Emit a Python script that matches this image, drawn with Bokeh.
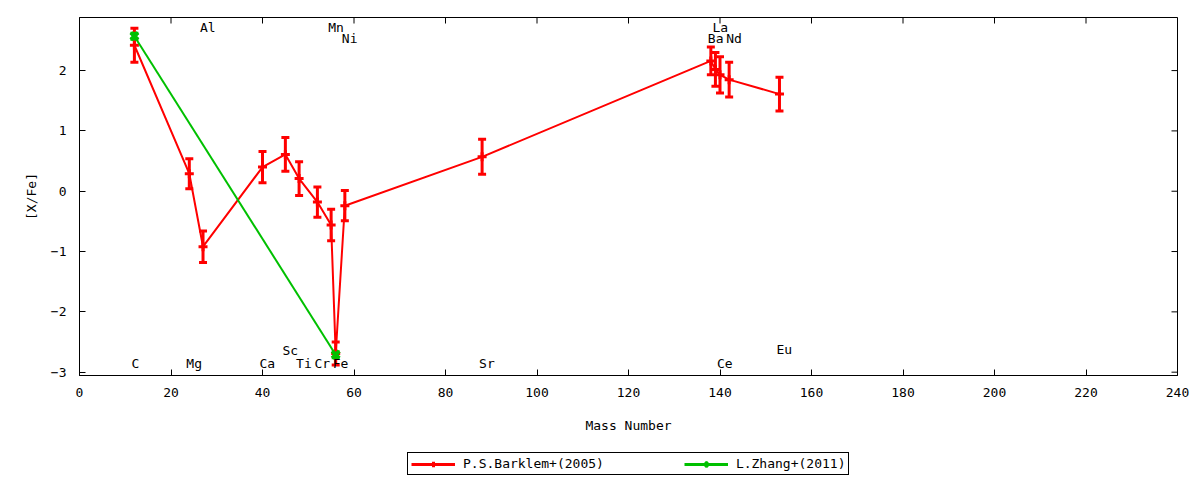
import math
from bokeh.plotting import figure
from bokeh.layouts import column
from bokeh.models import (ColumnDataSource, Whisker, TeeHead, FixedTicker, Range1d,
                          Legend, LegendItem)
from bokeh.core.properties import value
from bokeh.embed import file_html
from bokeh.resources import INLINE

# ---- data ----
elements = ["C", "Mg", "Al", "Ca", "Sc", "Ti", "Cr", "Mn", "Fe", "Ni", "Sr", "Ba", "La", "Ce", "Nd", "Eu"]
mass = [12, 24, 27, 40, 45, 48, 52, 55, 56, 58, 88, 138, 139, 140, 142, 153]
barklem_xfe = [2.42, 0.29, -0.92, 0.40, 0.61, 0.21, -0.18, -0.56, -2.69, -0.24, 0.57, 2.16, 2.02, 1.93, 1.85, 1.61]
barklem_err = [0.28, 0.25, 0.26, 0.26, 0.28, 0.28, 0.25, 0.26, 0.19, 0.25, 0.29, 0.23, 0.28, 0.30, 0.29, 0.28]
label_y = [-2.85, -2.85, 2.71, -2.85, -2.64, -2.85, -2.85, 2.71, -2.85, 2.54, -2.85, 2.54, 2.71, -2.85, 2.54, -2.62]

zhang_mass = [12, 56]
zhang_xfe = [2.57, -2.71]
zhang_err = [0.05, 0.05]

x_ticks = list(range(0, 241, 20))
y_ticks = [-3, -2, -1, 0, 1, 2]
X_MIN, X_MAX = 0, 240
Y_MIN, Y_MAX = -3.055, 2.88

RED = "#ff0000"
GREEN = "#00c000"
FONT = "DejaVu Sans Mono"
FS = "13px"

src_b = ColumnDataSource(dict(
    x=mass, y=barklem_xfe,
    lo=[v - e for v, e in zip(barklem_xfe, barklem_err)],
    hi=[v + e for v, e in zip(barklem_xfe, barklem_err)],
))
src_z = ColumnDataSource(dict(
    x=zhang_mass, y=zhang_xfe,
    lo=[v - e for v, e in zip(zhang_xfe, zhang_err)],
    hi=[v + e for v, e in zip(zhang_xfe, zhang_err)],
))
src_l = ColumnDataSource(dict(x=mass, y=label_y, t=elements))

p = figure(frame_width=1098, frame_height=358, output_backend="svg", toolbar_location=None,
           x_range=Range1d(X_MIN, X_MAX), y_range=Range1d(Y_MIN, Y_MAX),
           min_border_left=79, min_border_right=15, min_border_top=17, min_border_bottom=70)
p.outline_line_color = "black"
p.outline_line_width = 1
p.outline_line_alpha = 1.0
p.xgrid.visible = False
p.ygrid.visible = False

for ax in (p.xaxis[0], p.yaxis[0]):
    ax.major_tick_in = 6
    ax.major_tick_out = 0
    ax.minor_tick_line_color = None
    ax.major_label_text_font = FONT
    ax.major_label_text_font_size = FS
    ax.major_label_text_color = "black"
    ax.axis_label_text_font = FONT
    ax.axis_label_text_font_size = FS
    ax.axis_label_text_font_style = "normal"
    ax.axis_label_text_color = "black"
    ax.axis_line_color = "black"
    ax.major_tick_line_color = "black"

p.xaxis.ticker = FixedTicker(ticks=x_ticks)
p.yaxis.ticker = FixedTicker(ticks=y_ticks)
p.xaxis.axis_label = "Mass Number"
p.yaxis.axis_label = "[X/Fe]"
p.xaxis.major_label_standoff = 12
p.xaxis.axis_label_standoff = 18
p.yaxis.major_label_standoff = 13
p.yaxis.axis_label_standoff = 9

# mirrored tick marks on the top and right edges (half of each dash is clipped by the frame)
p.scatter(x=x_ticks, y=[Y_MAX] * len(x_ticks), marker="dash", angle=math.pi / 2,
          size=12, line_color="black", line_width=1)
p.scatter(x=[X_MAX] * len(y_ticks), y=y_ticks, marker="dash",
          size=12, line_color="black", line_width=1)

def add_series(fig, src, color, marker, msize, mlw):
    ln = fig.line("x", "y", source=src, line_color=color, line_width=2)
    wh = Whisker(base="x", upper="hi", lower="lo", source=src, dimension="height",
                 line_color=color, line_width=3,
                 upper_head=TeeHead(size=8, line_color=color, line_width=3),
                 lower_head=TeeHead(size=8, line_color=color, line_width=3))
    fig.add_layout(wh)
    sc = fig.scatter("x", "y", source=src, marker=marker, size=msize, line_color=color, line_width=mlw)
    return ln, sc

add_series(p, src_b, RED, "cross", 9, 3)
add_series(p, src_z, GREEN, "x", 10, 4)

# element labels
p.text("x", "y", text="t", source=src_l, text_font=value(FONT), text_font_size=FS,
       text_align="left", text_baseline="middle", x_offset=-3, text_color="black")

# legend strip below (same data, scrolled out of view, only used for legend glyphs)
q = figure(frame_width=1098, frame_height=35, output_backend="svg", toolbar_location=None,
           x_range=Range1d(1000, 1001), y_range=Range1d(1000, 1001),
           min_border_left=79, min_border_right=15, min_border_top=0, min_border_bottom=0)
q.axis.visible = False
q.xgrid.visible = False
q.ygrid.visible = False
q.outline_line_color = None
lb = q.line("x", "y", source=src_b, line_color=RED, line_width=3)
sb = q.scatter("x", "y", source=src_b, marker="cross", size=10, line_color=RED, line_width=3)
lz = q.line("x", "y", source=src_z, line_color=GREEN, line_width=3)
sz = q.scatter("x", "y", source=src_z, marker="x", size=10, line_color=GREEN, line_width=4)

legend = Legend(items=[LegendItem(label="P.S.Barklem+(2005)", renderers=[lb, sb]),
                       LegendItem(label="L.Zhang+(2011)", renderers=[lz, sz])],
                orientation="horizontal", location=(328, 5),
                border_line_color="black", border_line_width=1, border_line_alpha=1.0,
                background_fill_alpha=1.0,
                label_text_font=FONT, label_text_font_size=FS, label_text_color="black",
                glyph_width=44, glyph_height=14, label_standoff=8, spacing=80,
                padding=3, margin=0, label_height=14)
q.add_layout(legend, "center")

layout = column(p, q, spacing=0)
open("out.html", "w").write(file_html(layout, INLINE))
